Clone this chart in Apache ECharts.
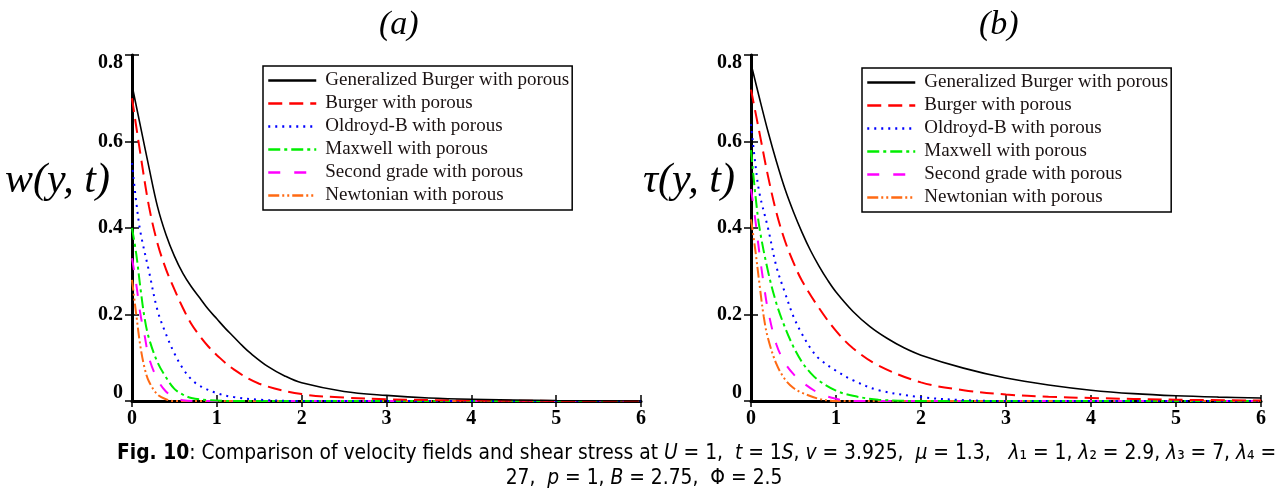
<!DOCTYPE html>
<html>
<head>
<meta charset="utf-8">
<script src="https://cdn.jsdelivr.net/npm/echarts@6/dist/echarts.min.js"></script>
<style>html,body{margin:0;padding:0;background:#fff;}#c{width:1288px;height:495px;}</style>
</head>
<body>
<div id="c"></div>
<script>
// ---------- data ----------
const seriesNames = ['Generalized Burger with porous','Burger with porous','Oldroyd-B with porous','Maxwell with porous','Second grade with porous','Newtonian with porous'];
const xTicks = [0,1,2,3,4,5,6];
const yTicks = [0,0.2,0.4,0.6,0.8];

// panel (a): velocity w(y,t)
const aGenX = [0,0.1,0.2,0.3,0.4,0.5,0.6,0.7,0.8,0.9,1.0,1.1,1.2,1.3,1.4,1.6,1.8,2.0,2.5,3.0,3.5,4.0,5.0,6.0];
const aGenY = [0.73,0.635,0.54,0.45,0.385,0.335,0.295,0.264,0.238,0.212,0.19,0.168,0.148,0.128,0.11,0.08,0.058,0.042,0.022,0.013,0.007,0.004,0.001,0.0];
const aBurX = [0,0.1,0.2,0.3,0.4,0.5,0.6,0.7,0.8,0.9,1.0,1.2,1.5,2.0,2.5,3.0,4.0,6.0];
const aBurY = [0.70,0.57,0.45,0.365,0.305,0.258,0.215,0.178,0.15,0.126,0.106,0.073,0.04,0.016,0.008,0.004,0.001,0.0];
const aOldX = [0,0.05,0.1,0.2,0.3,0.4,0.5,0.6,0.7,0.8,1.0,1.2,1.5,2.0,6.0];
const aOldY = [0.55,0.46,0.39,0.30,0.21,0.155,0.11,0.075,0.05,0.035,0.018,0.009,0.003,0.0,0.0];
const aMaxX = [0,0.05,0.1,0.15,0.2,0.3,0.4,0.5,0.6,0.7,0.9,1.2,6.0];
const aMaxY = [0.40,0.34,0.26,0.19,0.145,0.09,0.055,0.028,0.015,0.007,0.002,0.0,0.0];
const aSecX = [0,0.05,0.1,0.15,0.2,0.3,0.4,0.5,0.6,0.8,6.0];
const aSecY = [0.33,0.27,0.20,0.15,0.10,0.05,0.022,0.008,0.002,0.0,0.0];
const aNewX = [0,0.05,0.1,0.15,0.2,0.3,0.4,0.5,6.0];
const aNewY = [0.28,0.20,0.125,0.075,0.045,0.015,0.004,0.0,0.0];

// panel (b): shear stress tau(y,t)
const bGenX = [0,0.1,0.2,0.3,0.4,0.5,0.6,0.7,0.8,0.9,1.0,1.2,1.4,1.6,1.8,2.0,2.5,3.0,3.5,4.0,4.5,5.0,5.5,6.0];
const bGenY = [0.78,0.70,0.623,0.553,0.49,0.437,0.39,0.348,0.312,0.28,0.252,0.207,0.172,0.145,0.123,0.106,0.076,0.053,0.037,0.025,0.017,0.012,0.009,0.007];
const bBurX = [0,0.1,0.2,0.3,0.4,0.5,0.6,0.8,1.0,1.2,1.5,2.0,2.5,3.0,3.5,4.0,5.0,6.0];
const bBurY = [0.72,0.62,0.52,0.435,0.37,0.32,0.278,0.215,0.162,0.122,0.082,0.043,0.025,0.015,0.01,0.007,0.003,0.001];
const bOldX = [0,0.05,0.1,0.2,0.3,0.4,0.5,0.6,0.7,0.8,1.0,1.2,1.5,2.0,2.5,3.0,6.0];
const bOldY = [0.64,0.55,0.48,0.40,0.31,0.25,0.195,0.155,0.122,0.098,0.07,0.048,0.025,0.009,0.002,0.0,0.0];
const bMaxX = [0,0.05,0.1,0.2,0.3,0.4,0.5,0.6,0.7,0.8,1.0,1.2,1.5,2.0,6.0];
const bMaxY = [0.58,0.48,0.40,0.30,0.225,0.17,0.125,0.09,0.065,0.047,0.024,0.012,0.003,0.0,0.0];
const bSecX = [0,0.05,0.1,0.15,0.2,0.3,0.4,0.5,0.6,0.8,1.0,1.2,6.0];
const bSecY = [0.49,0.42,0.34,0.27,0.21,0.13,0.088,0.062,0.044,0.018,0.005,0.0,0.0];
const bNewX = [0,0.05,0.1,0.15,0.2,0.3,0.4,0.5,0.6,0.8,1.0,6.0];
const bNewY = [0.42,0.35,0.27,0.195,0.145,0.085,0.05,0.03,0.019,0.005,0.0,0.0];

// ---------- styles ----------
const colors = ['#000000','#ff0000','#0000ff','#00ee00','#ff00ff','#ff6a13'];
const dashes = ['solid',[14,7],[2,5],[12,4,3,4],[12,14],[11,3,2,3,2,3]];
const widths = [1.6,2,2,2,2,2];

function zip(xs, ys){ return xs.map((x,i)=>[x,ys[i]]); }
const panelA = [[aGenX,aGenY],[aBurX,aBurY],[aOldX,aOldY],[aMaxX,aMaxY],[aSecX,aSecY],[aNewX,aNewY]];
const panelB = [[bGenX,bGenY],[bBurX,bBurY],[bOldX,bOldY],[bMaxX,bMaxY],[bSecX,bSecY],[bNewX,bNewY]];

const series = [];
[panelA, panelB].forEach((panel, p) => {
  panel.forEach((d, i) => {
    series.push({
      type:'line', name: seriesNames[i],
      xAxisIndex: p*2, yAxisIndex: p*2,
      data: zip(d[0], d[1]),
      symbol:'none', smooth:0.35, clip:true,
      lineStyle:{color:colors[i], width:widths[i], type:dashes[i]},
      itemStyle:{color:colors[i]},
      z: 10 - i
    });
  });
});

const tickFont = {fontFamily:'Liberation Serif', fontWeight:'bold', fontSize:20, color:'#000'};
function mainX(g){ return {type:'value', gridIndex:g, min:0, max:6, interval:1,
  axisLine:{lineStyle:{color:'#000', width:3}},
  axisTick:{inside:true, length:6, lineStyle:{color:'#000', width:1.5}},
  axisLabel:Object.assign({margin:8, formatter: v => xTicks.includes(v) ? String(v) : ''}, tickFont),
  splitLine:{show:false}}; }
function topX(g){ return {type:'value', gridIndex:g, min:0, max:6, interval:1, position:'top',
  axisLine:{lineStyle:{color:'#000', width:2}},
  axisTick:{inside:true, length:6, lineStyle:{color:'#000', width:1.5}},
  axisLabel:{show:false}, splitLine:{show:false}}; }
function mainY(g){ return {type:'value', gridIndex:g, min:0, max:0.8, interval:0.2,
  axisLine:{lineStyle:{color:'#000', width:3}},
  axisTick:{inside:true, length:7, lineStyle:{color:'#000', width:1.5}},
  axisLabel:Object.assign({margin:9,
    formatter: v => { const s = String(Math.round(v*10)/10); if (v >= 0.79) return '{t|'+s+'}'; if (v <= 0.001) return '{b|'+s+'}'; return s; },
    rich:{ t:Object.assign({padding:[16,0,0,0]}, tickFont), b:Object.assign({padding:[0,0,16,0]}, tickFont) }
  }, tickFont),
  splitLine:{show:false}}; }
function rightY(g){ return {type:'value', gridIndex:g, min:0, max:0.8, interval:0.2, position:'right',
  axisLine:{lineStyle:{color:'#000', width:2}},
  axisTick:{inside:true, length:7, lineStyle:{color:'#000', width:1.5}},
  axisLabel:{show:false}, splitLine:{show:false}}; }

const legendBase = {
  orient:'vertical', data: seriesNames,
  backgroundColor:'#fff', borderColor:'#000', borderWidth:1.5,
  padding:[5,3,5,4], itemWidth:48, itemHeight:14, itemGap:4,
  itemStyle:{opacity:0},
  lineStyle:{width:2.5},
  textStyle:{fontFamily:'Liberation Serif', fontSize:19, lineHeight:18, color:'#1a1212', padding:[0,0,0,4]},
  selectedMode:false
};

const capFont = '"DejaVu Sans Condensed", "DejaVu Sans", sans-serif';
const capSize = 20.8;
const captionRich = {
  n:{fontFamily:capFont, fontSize:capSize, color:'#111'},
  bo:{fontFamily:capFont, fontSize:capSize, fontWeight:'bold', color:'#111'},
  i:{fontFamily:capFont, fontSize:capSize, fontStyle:'italic', color:'#111'}
};

const option = {
  backgroundColor:'#fff',
  animation:false,
  grid:[
    {left:132, top:55, width:509, height:346, show:false},
    {left:751, top:55, width:510, height:346, show:false}
  ],
  xAxis:[mainX(0), topX(0), mainX(1), topX(1)],
  yAxis:[mainY(0), rightY(0), mainY(1), rightY(1)],
  legend:[
    Object.assign({left:263, top:66}, legendBase),
    Object.assign({left:862, top:68}, legendBase)
  ],
  series: series,
  graphic:[
    {type:'text', left:379, top:8, style:{text:'(a)', font:'italic 34px "Liberation Serif"', fill:'#000'}},
    {type:'text', left:979, top:8, style:{text:'(b)', font:'italic 34px "Liberation Serif"', fill:'#000'}},
    {type:'text', left:5, top:160, style:{text:'w(y, t)', font:'italic 42px "Liberation Serif"', fill:'#000'}},
    {type:'text', left:643, top:160, style:{text:'τ(y, t)', font:'italic 42px "Liberation Serif"', fill:'#000'}},
    {type:'text', left:117, top:443, style:{
      text:'{bo|Fig. 10}{n|: Comparison of velocity fields and shear stress at }{i|U}{n| = 1,  }{i|t}{n| = 1}{i|S}{n|, }{i|v}{n| = 3.925,  }{i|μ}{n| = 1.3,   }{i|λ}{n|₁ = 1, }{i|λ}{n|₂ = 2.9, }{i|λ}{n|₃ = 7, }{i|λ}{n|₄ =}',
      rich: captionRich}},
    {type:'text', left:'center', top:468, style:{
      text:'{n|27,  }{i|p}{n| = 1, }{i|B}{n| = 2.75,  Φ = 2.5}',
      rich: captionRich}}
  ]
};

const chart = echarts.init(document.getElementById('c'), null, {renderer:'canvas'});
chart.setOption(option);
</script>
</body>
</html>
